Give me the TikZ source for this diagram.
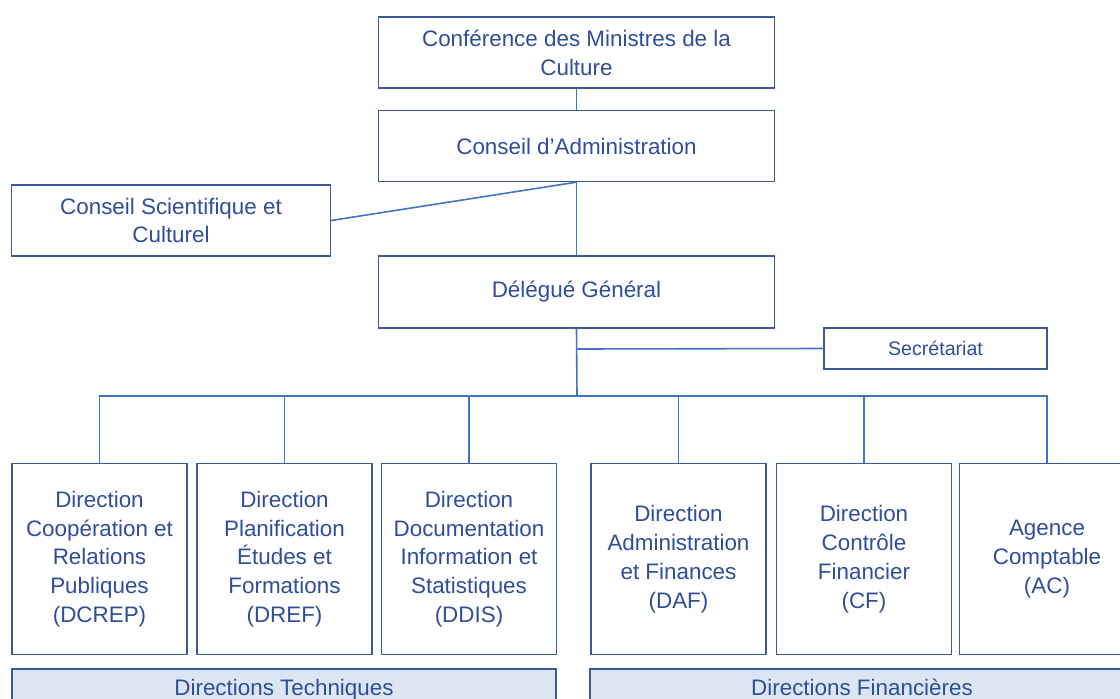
\documentclass[tikz,border=0pt]{standalone}
\usepackage{fontspec}
\setmainfont{Liberation Sans}
\definecolor{txt}{HTML}{2F4E9A}
\definecolor{brd}{HTML}{3C5A9A}
\definecolor{ln}{HTML}{4472C4}
\definecolor{barfill}{HTML}{DCE6F2}
\begin{document}
\begin{tikzpicture}[x=1pt,y=-1pt,
  box/.style={draw=brd, line width=1.3pt, fill=white, text=txt, align=center, inner sep=0pt,
    font=\fontsize{22.4}{28.8}\selectfont},
  topbox/.style={box, minimum width=396pt, minimum height=71pt},
  dirbox/.style={box, minimum width=175pt, minimum height=191pt},
  barbox/.style={box, fill=barfill, minimum width=544pt, minimum height=41pt, text height=16pt, text depth=4.7pt},
  conn/.style={draw=ln, line width=1.6pt}]
\useasboundingbox (0,0) rectangle (1120,699);
\clip (0,0) rectangle (1120,699);

\node[topbox] (conf) at (576.5,52.5) {Conférence des Ministres de la\\Culture};
\node[topbox] (ca) at (576.5,146) {Conseil d’Administration};
\node[box, minimum width=319pt, minimum height=71pt] (csc) at (171,220.5) {Conseil Scientifique et\\Culturel};
\node[topbox, minimum height=72pt] (dg) at (576.5,292) {Délégué Général};
\node[box, minimum width=223pt, minimum height=41pt, font=\fontsize{19.6}{24}\selectfont] (sec) at (935.5,348.5) {Secrétariat};

\node[dirbox] (d1) at (99.5,559) {Direction\\Coopération et\\Relations\\Publiques\\(DCREP)};
\node[dirbox] (d2) at (284.5,559) {Direction\\Planification\\Études et\\Formations\\(DREF)};
\node[dirbox] (d3) at (469,559) {Direction\\Documentation\\Information et\\Statistiques\\(DDIS)};
\node[dirbox] (d4) at (678.5,559) {Direction\\Administration\\et Finances\\(DAF)};
\node[dirbox] (d5) at (864,559) {Direction\\Contrôle\\Financier\\(CF)};
\node[dirbox] (d6) at (1047,559) {Agence\\Comptable\\(AC)};

\node[barbox] (bt) at (284,689.5) {Directions Techniques};
\node[barbox] (bf) at (862,689.5) {Directions Financières};

\coordinate (bus) at (577,396);
\coordinate (secj) at (577,349);

\draw[conn] (conf.south) -- (ca.north);
\draw[conn] (ca.south) -- (dg.north);
\draw[conn] (csc.east) -- (ca.south);
\draw[conn] (dg.south) -- (bus);
\draw[conn] (sec.west) -- (secj);
\draw[conn] (d1.north) -- (d1.north |- bus) -- (d6.north |- bus) -- (d6.north);
\foreach \n in {d2,d3,d4,d5} {\draw[conn] (\n.north) -- (\n.north |- bus);}
\end{tikzpicture}
\end{document}
